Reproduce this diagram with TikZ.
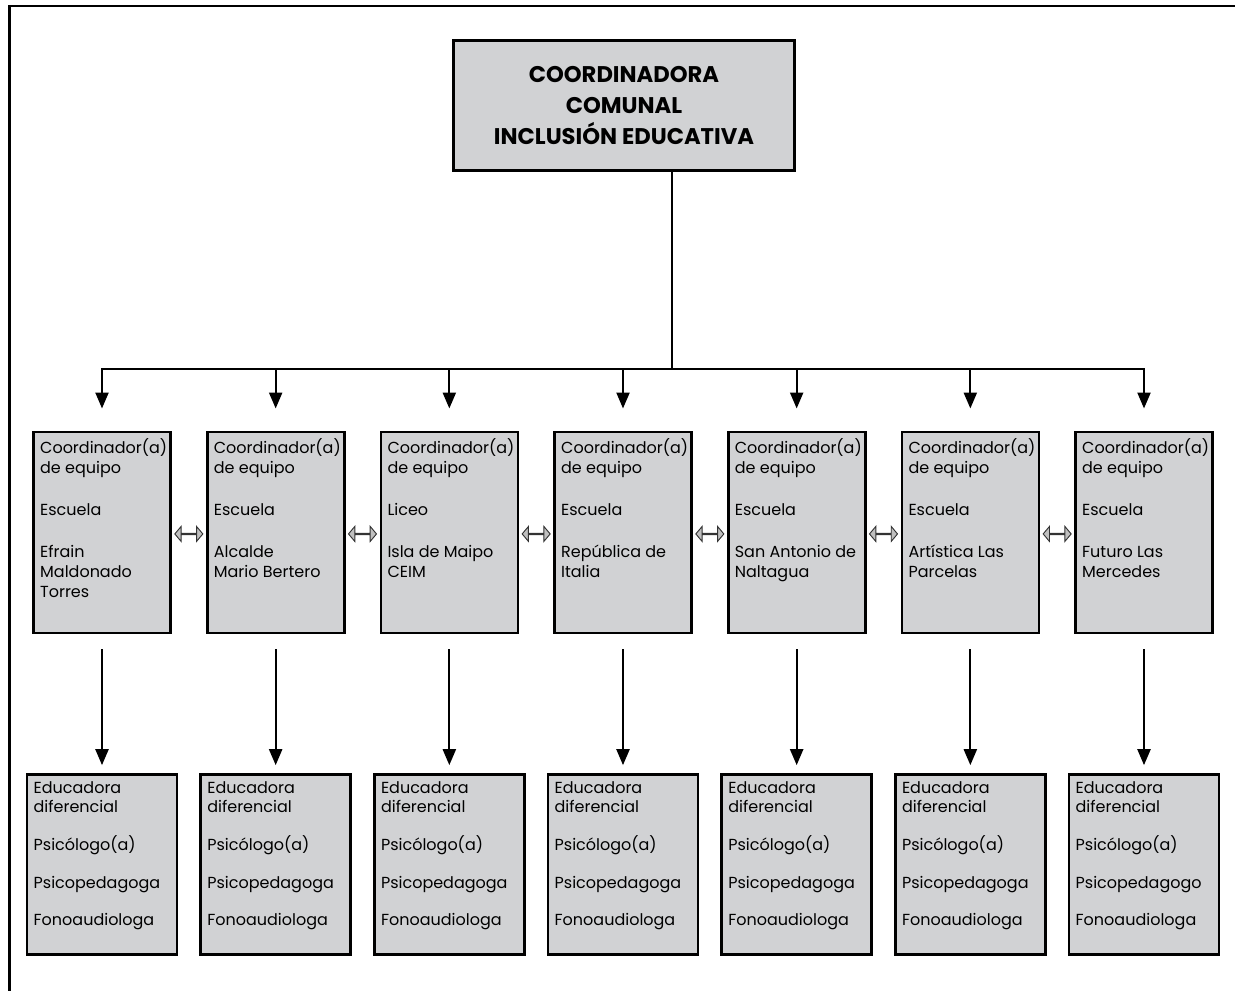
\documentclass[tikz,border=0pt]{standalone}
\usepackage{fontspec}
\setmainfont{Poppins}
\usetikzlibrary{arrows.meta,positioning,calc,shapes.arrows}
\definecolor{cajagris}{RGB}{209,210,212}
\definecolor{flechagris}{RGB}{192,192,192}
\newcommand{\coltxt}[1]{\parbox[c][140.75pt][t]{92.75pt}{\raggedright #1}}
\newcommand{\eqtxt}[1]{\parbox[c][125pt][t]{102.5pt}{\raggedright #1}}

\begin{document}
\begin{tikzpicture}[
    x=0.75pt, y=-0.75pt,
    titulo/.style={rectangle, draw, line width=2pt, fill=cajagris, minimum width=255.75pt, minimum height=97.5pt, align=center, font=\bfseries\fontsize{17}{23.5}\selectfont},
    colbox/.style={rectangle, draw, line width=2pt, fill=cajagris, inner xsep=5pt, inner ysep=5pt, font=\fontsize{12}{14.8}\selectfont},
    dflecha/.style={double arrow, draw=black!80, fill=flechagris, line width=0.7pt, inner sep=0pt, minimum width=11.25pt, minimum height=21pt, double arrow head extend=3.75pt, double arrow tip angle=100},
    linea/.style={line width=1.7pt},
    flecha/.style={-{Triangle[length=12pt, width=9.75pt]}, line width=1.7pt}
]
    \useasboundingbox (0,0) rectangle (1235,991);
    % Marco
    \draw[line width=2pt] (9.5,991) |- (1235,6);

    % Nodo principal
    \node[titulo] (coord) at (624,105.5) {COORDINADORA\\COMUNAL\\INCLUSIÓN EDUCATIVA};
    \coordinate (bus) at (672,369);

    % Coordinadores de equipo
    \node[colbox, anchor=north] (c1) at (102,430.5) {\coltxt{Coordinador(a)\\de equipo\\[17pt]Escuela\\[17pt]Efrain\\Maldonado\\Torres}};
    \node[colbox, right=25.5pt of c1] (c2) {\coltxt{Coordinador(a)\\de equipo\\[17pt]Escuela\\[17pt]Alcalde\\Mario Bertero}};
    \node[colbox, right=25.5pt of c2] (c3) {\coltxt{Coordinador(a)\\de equipo\\[17pt]Liceo\\[17pt]Isla de Maipo\\CEIM}};
    \node[colbox, right=25.5pt of c3] (c4) {\coltxt{Coordinador(a)\\de equipo\\[17pt]Escuela\\[17pt]República de\\Italia}};
    \node[colbox, right=25.5pt of c4] (c5) {\coltxt{Coordinador(a)\\de equipo\\[17pt]Escuela\\[17pt]San Antonio de\\Naltagua}};
    \node[colbox, right=25.5pt of c5] (c6) {\coltxt{Coordinador(a)\\de equipo\\[17pt]Escuela\\[17pt]Artística Las\\Parcelas}};
    \node[colbox, right=25.5pt of c6] (c7) {\coltxt{Coordinador(a)\\de equipo\\[17pt]Escuela\\[17pt]Futuro Las\\Mercedes}};

    % Equipos
    \node[colbox, below=104.25pt of c1] (e1) {\eqtxt{Educadora\\diferencial\\[13.5pt]Psicólogo(a)\\[13.5pt]Psicopedagoga\\[13.5pt]Fonoaudiologa}};
    \node[colbox, below=104.25pt of c2] (e2) {\eqtxt{Educadora\\diferencial\\[13.5pt]Psicólogo(a)\\[13.5pt]Psicopedagoga\\[13.5pt]Fonoaudiologa}};
    \node[colbox, below=104.25pt of c3] (e3) {\eqtxt{Educadora\\diferencial\\[13.5pt]Psicólogo(a)\\[13.5pt]Psicopedagoga\\[13.5pt]Fonoaudiologa}};
    \node[colbox, below=104.25pt of c4] (e4) {\eqtxt{Educadora\\diferencial\\[13.5pt]Psicólogo(a)\\[13.5pt]Psicopedagoga\\[13.5pt]Fonoaudiologa}};
    \node[colbox, below=104.25pt of c5] (e5) {\eqtxt{Educadora\\diferencial\\[13.5pt]Psicólogo(a)\\[13.5pt]Psicopedagoga\\[13.5pt]Fonoaudiologa}};
    \node[colbox, below=104.25pt of c6] (e6) {\eqtxt{Educadora\\diferencial\\[13.5pt]Psicólogo(a)\\[13.5pt]Psicopedagoga\\[13.5pt]Fonoaudiologa}};
    \node[colbox, below=104.25pt of c7] (e7) {\eqtxt{Educadora\\diferencial\\[13.5pt]Psicólogo(a)\\[13.5pt]Psicopedagogo\\[13.5pt]Fonoaudiologa}};

    % Flechas dobles entre coordinadores
    \node[dflecha, yshift=-1.2pt] (d12) at ($(c1.east)!0.5!(c2.west)$) {};
    \node[dflecha, yshift=-1.2pt] (d23) at ($(c2.east)!0.5!(c3.west)$) {};
    \node[dflecha, yshift=-1.2pt] (d34) at ($(c3.east)!0.5!(c4.west)$) {};
    \node[dflecha, yshift=-1.2pt] (d45) at ($(c4.east)!0.5!(c5.west)$) {};
    \node[dflecha, yshift=-1.2pt] (d56) at ($(c5.east)!0.5!(c6.west)$) {};
    \node[dflecha, yshift=-1.2pt] (d67) at ($(c6.east)!0.5!(c7.west)$) {};

    % Conexiones
    \draw[linea] (bus |- coord.south) -- (bus);
    \draw[flecha, shorten >=16.5pt] (bus) -| (c1.north);
    \draw[flecha, shorten >=16.5pt] (bus) -| (c2.north);
    \draw[flecha, shorten >=16.5pt] (bus) -| (c3.north);
    \draw[flecha, shorten >=16.5pt] (bus) -| (c4.north);
    \draw[flecha, shorten >=16.5pt] (bus) -| (c5.north);
    \draw[flecha, shorten >=16.5pt] (bus) -| (c6.north);
    \draw[flecha, shorten >=16.5pt] (bus) -| (c7.north);

    \draw[flecha, shorten <=11.25pt, shorten >=6pt] (c1) -- (e1);
    \draw[flecha, shorten <=11.25pt, shorten >=6pt] (c2) -- (e2);
    \draw[flecha, shorten <=11.25pt, shorten >=6pt] (c3) -- (e3);
    \draw[flecha, shorten <=11.25pt, shorten >=6pt] (c4) -- (e4);
    \draw[flecha, shorten <=11.25pt, shorten >=6pt] (c5) -- (e5);
    \draw[flecha, shorten <=11.25pt, shorten >=6pt] (c6) -- (e6);
    \draw[flecha, shorten <=11.25pt, shorten >=6pt] (c7) -- (e7);
\end{tikzpicture}
\end{document}
